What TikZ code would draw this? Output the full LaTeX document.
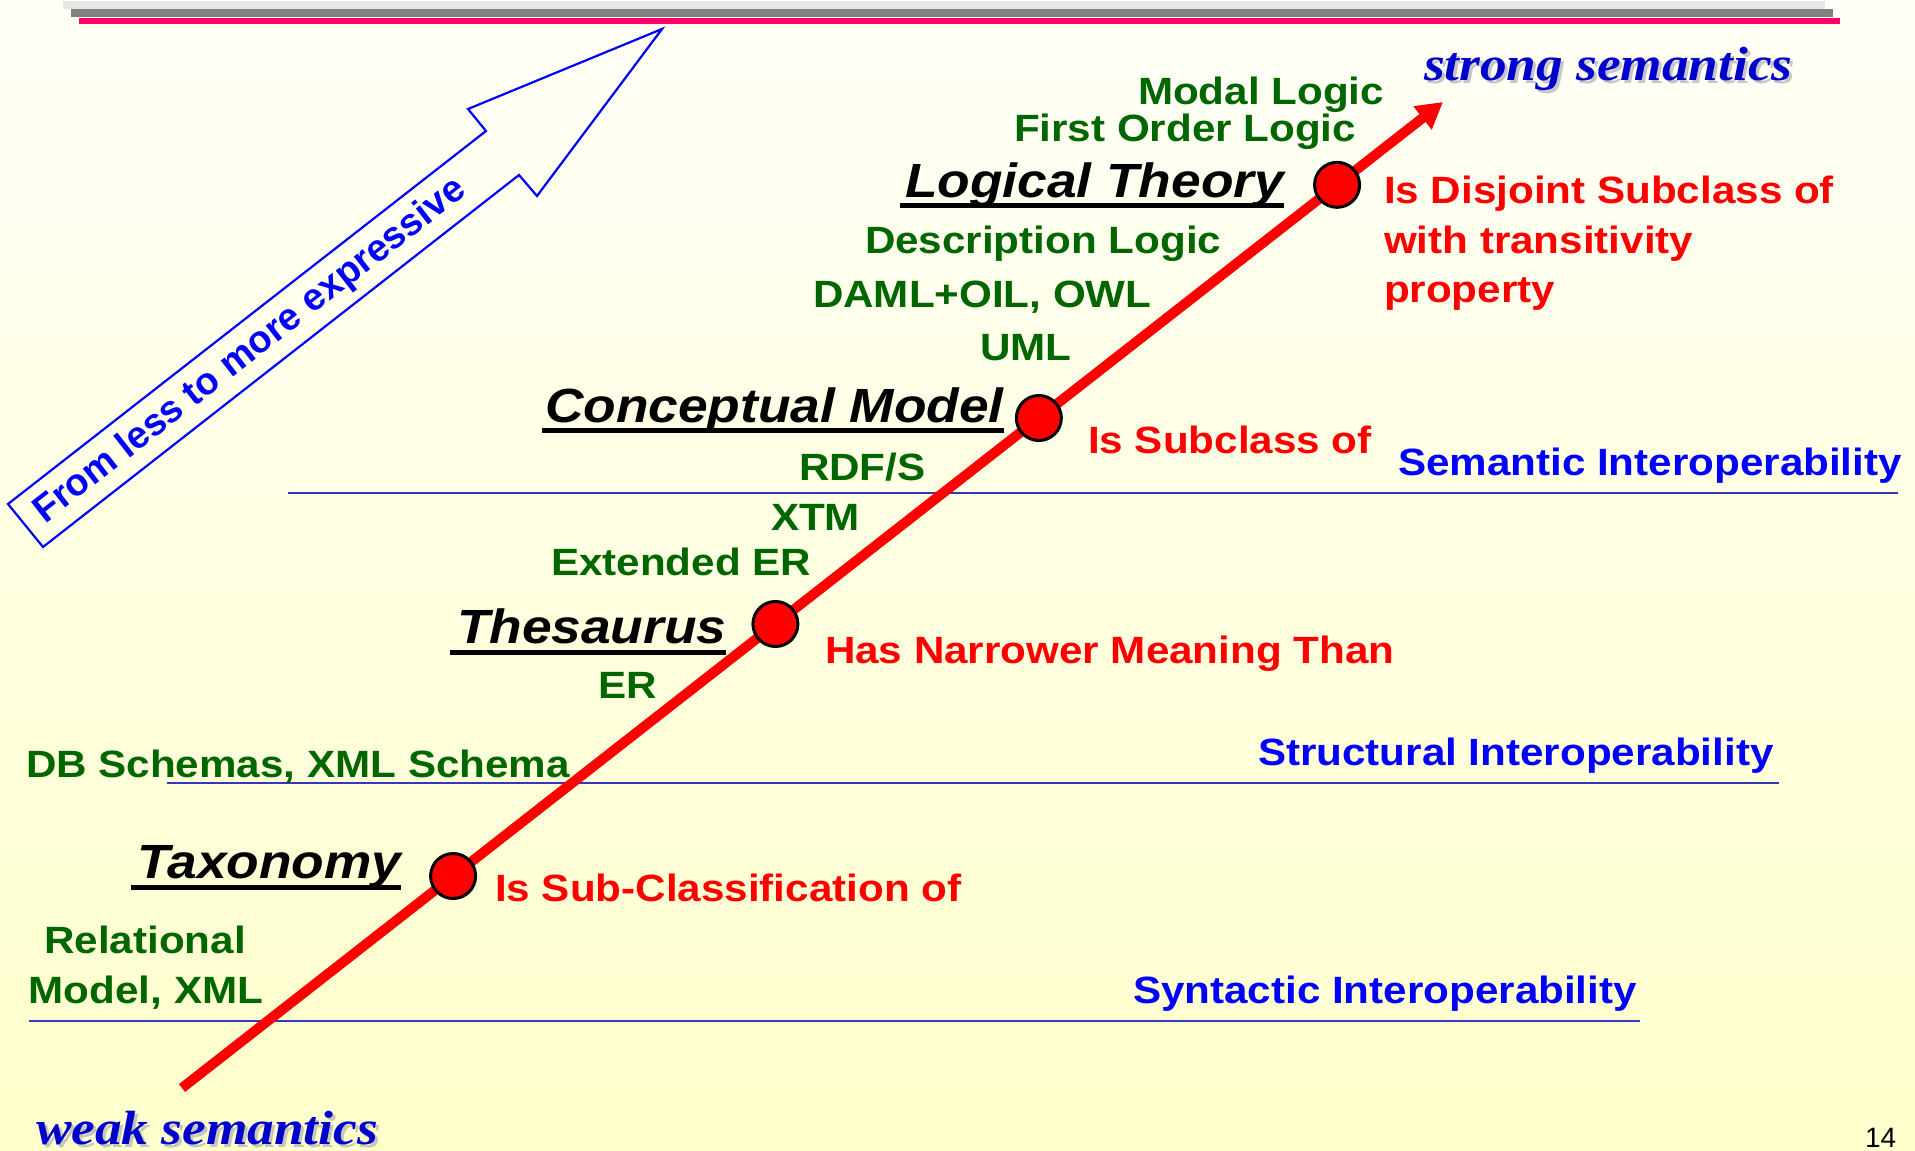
\documentclass[tikz,border=0pt]{standalone}
\usepackage{fontspec}
\usetikzlibrary{arrows.meta,calc}
\newfontfamily\sansb[FakeStretch=1.11]{Liberation Sans}
\newfontfamily\serifb[FakeStretch=1.11]{Liberation Serif}
\newfontfamily\sansr{Liberation Sans}
\definecolor{bgtop}{RGB}{255,255,247}
\definecolor{bgbot}{RGB}{255,255,204}
\definecolor{dkgreen}{RGB}{0,102,0}
\definecolor{hlineblue}{RGB}{55,55,185}
\definecolor{titleblue}{RGB}{0,0,204}
\definecolor{barpink}{RGB}{255,0,102}
\definecolor{bargray}{RGB}{128,128,128}
\definecolor{barlight}{RGB}{230,230,230}
\definecolor{shadowgray}{RGB}{160,160,175}
\begin{document}
\begin{tikzpicture}[x=1pt,y=-1pt,
  every node/.style={inner sep=0pt,outer sep=0pt},
  gtext/.style={font=\sansb\bfseries\fontsize{38}{46}\selectfont,text=dkgreen,anchor=base west},
  rtext/.style={font=\sansb\bfseries\fontsize{38}{46}\selectfont,text=red,anchor=base west},
  btext/.style={font=\sansb\bfseries\fontsize{38}{46}\selectfont,text=blue,anchor=base west},
  ttl/.style={font=\sansb\bfseries\itshape\fontsize{48}{56}\selectfont,text=black,anchor=base west},
  semtext/.style={font=\serifb\bfseries\itshape\fontsize{48}{56}\selectfont,text=titleblue,anchor=base west},
  semshadow/.style={font=\serifb\bfseries\itshape\fontsize{48}{56}\selectfont,text=shadowgray,text opacity=0.6,anchor=base west},
  uline/.style={line width=5pt,black},
  hline/.style={line width=2.5pt,hlineblue},
  redline/.style={line width=10pt,red,-{Triangle[length=26pt,width=28pt]}},
  dot/.style={circle,fill=red,draw=black,line width=3pt,minimum size=45pt},
  harrow/.style={draw=blue,line width=2.2pt,line join=miter}
]
\useasboundingbox (0,0) rectangle (1915,1151);
\shade[top color=bgtop,bottom color=bgbot] (0,0) rectangle (1915,1151);

% top bars
\fill[barlight] (63,1) rectangle (1825,9);
\fill[bargray] (71,9) rectangle (1833,17);
\fill[barpink] (79,18) rectangle (1840,24);

% hollow arrow
\draw[harrow] (8,504) -- (486,131) -- (468,109) -- (662,29) -- (537,196) -- (519,175) -- (43,547) -- cycle;
\node[font=\sansr\bfseries\fontsize{38}{44}\selectfont,text=blue,anchor=base west,rotate=38] (expr) at (45,524) {From less to more expressive};

% horizontal separators
\coordinate (s1a) at (288,493); \coordinate (s1b) at (1898,493);
\coordinate (s2a) at (167,783); \coordinate (s2b) at (1779,783);
\coordinate (s3a) at (29,1021); \coordinate (s3b) at (1640,1021);
\draw[hline] (s1a) -- (s1b);
\draw[hline] (s2a) -- (s2b);
\draw[hline] (s3a) -- (s3b);

% interoperability labels
\node[btext] (sem) at (1398,475) {Semantic Interoperability};
\node[btext] (str) at (1258,765) {Structural Interoperability};
\node[btext] (syn) at (1133,1003) {Syntactic Interoperability};

% green examples
\node[gtext] (modal) at (1138,104) {Modal Logic};
\node[gtext] (fol) at (1014,141) {First Order Logic};
\node[gtext] (dl) at (865,253) {Description Logic};
\node[gtext] (daml) at (813,307) {DAML+OIL, OWL};
\node[gtext] (uml) at (980,360) {UML};
\node[gtext] (rdfs) at (799,480) {RDF/S};
\node[gtext] (xtm) at (771,530) {XTM};
\node[gtext] (eer) at (551,575) {Extended ER};
\node[gtext] (er) at (598,698) {ER};
\node[gtext] (db) at (26,777) {DB Schemas, XML Schema};
\node[gtext,anchor=base] (rel1) at (145,953) {Relational};
\node[gtext,anchor=base] (rel2) at (146,1003) {Model, XML};

% titles
\node[ttl] (lt) at (905,197) {Logical Theory};
\node[ttl] (cm) at (545,422) {Conceptual Model};
\node[ttl] (th) at (457,643) {Thesaurus};
\node[ttl] (tx) at (137,878) {Taxonomy};
\draw[uline] ([yshift=-8pt,xshift=-5pt]lt.base west) -- ([yshift=-8pt]lt.base east);
\draw[uline] ([yshift=-8pt,xshift=-3pt]cm.base west) -- ([yshift=-8pt]cm.base east);
\draw[uline] ([yshift=-9pt,xshift=-7pt]th.base west) -- ([yshift=-9pt]th.base east);
\draw[uline] ([yshift=-9pt,xshift=-6pt]tx.base west) -- ([yshift=-9pt]tx.base east);

% red relations
\node[rtext] (r4a) at (1384,203) {Is Disjoint Subclass of};
\node[rtext] (r4b) at (1384,253) {with transitivity};
\node[rtext] (r4c) at (1384,302) {property};
\node[rtext] (r3) at (1088,453) {Is Subclass of};
\node[rtext] (r2) at (825,663) {Has Narrower Meaning Than};
\node[rtext] (r1) at (495,901) {Is Sub-Classification of};

% main red line
\coordinate (ls) at (182,1088);
\coordinate (le) at (1443,102);
\draw[redline] (ls) -- (le);
\node[dot] (d1) at ($(ls)!0.215!(le)$) {};
\node[dot] (d2) at ($(ls)!0.4706!(le)$) {};
\node[dot] (d3) at ($(ls)!0.6795!(le)$) {};
\node[dot] (d4) at ($(ls)!0.916!(le)$) {};

% semantics labels with shadow
\node[semshadow] (strongs) at (1427,83) {strong semantics};
\node[semtext] (strong) at (1424,80) {strong semantics};
\node[semshadow] (weaks) at (39,1147) {weak semantics};
\node[semtext] (weak) at (36,1144) {weak semantics};

% page number
\node[font=\sansr\fontsize{28}{32}\selectfont,anchor=base west] (pg) at (1865,1147) {14};
\end{tikzpicture}
\end{document}
